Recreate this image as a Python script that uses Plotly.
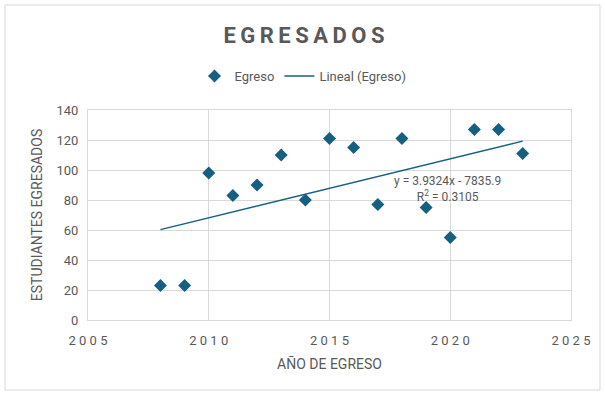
import numpy as np
import plotly.graph_objects as go

years = [2008, 2009, 2010, 2011, 2012, 2013, 2014, 2015, 2016, 2017, 2018, 2019, 2020, 2021, 2022, 2023]
egreso = [23, 23, 98, 83, 90, 110, 80, 121, 115, 77, 121, 75, 55, 127, 127, 111]
x_ticks = [2005, 2010, 2015, 2020, 2025]
y_ticks = [0, 20, 40, 60, 80, 100, 120, 140]

COLOR = "#156082"
GRID = "#d9d9d9"
TXT = "#595959"
FONT = "Roboto"

slope, intercept = np.polyfit(years, egreso, 1)
pred = np.polyval([slope, intercept], years)
r2 = 1 - np.sum((np.array(egreso) - pred) ** 2) / np.sum((np.array(egreso) - np.mean(egreso)) ** 2)
trend_x = [years[0], years[-1]]
trend_y = list(np.polyval([slope, intercept], trend_x))

fig = go.Figure()
fig.add_trace(go.Scatter(x=years, y=egreso, mode="markers", name="Egreso",
                         marker=dict(symbol="diamond", size=10, color=COLOR)))
fig.add_trace(go.Scatter(x=trend_x, y=trend_y, mode="lines", name="Lineal (Egreso)",
                         line=dict(color=COLOR, width=1.5)))

def spaced(s):
    return " ".join(str(s))

W, H = 605, 394
L, T = 88, 110
R = 605 - 571
B = 394 - 320
pw, ph = W - L - R, H - T - B

def px(xp):
    return (xp - L) / pw

def py(yp):
    return (H - B - yp) / ph

fig.update_layout(
    width=W, height=H,
    margin=dict(l=L, r=R, t=T, b=B),
    paper_bgcolor="white", plot_bgcolor="white",
    font=dict(family=FONT, color=TXT, size=12),
    title=dict(text="<b>" + "\u2009".join("EGRESADOS") + "</b>", x=px(304), xanchor="center", xref="paper",
               y=1 - 35 / H, yanchor="middle", font=dict(size=22, color=TXT, family=FONT)),
    showlegend=True,
    legend=dict(orientation="h", x=px(303), xanchor="center", y=py(76), yanchor="middle",
                font=dict(size=13, color=TXT), bgcolor="rgba(0,0,0,0)"),
    xaxis=dict(range=[2005, 2025], tickvals=x_ticks, ticktext=[spaced(t) for t in x_ticks],
               showgrid=True, gridcolor=GRID, gridwidth=1, zeroline=False,
               showline=True, linecolor=GRID, mirror=True, ticks="",
               tickfont=dict(size=13, color=TXT), ticklabelstandoff=8,
               title=dict(text="AÑO DE EGRESO", font=dict(size=14, color=TXT), standoff=12)),
    yaxis=dict(range=[0, 140], tickvals=y_ticks, showgrid=True, gridcolor=GRID, gridwidth=1,
               zeroline=False, showline=True, linecolor=GRID, mirror=True, ticks="",
               tickfont=dict(size=13, color=TXT), ticklabelstandoff=6,
               title=dict(text="ESTUDIANTES EGRESADOS", font=dict(size=14, color=TXT), standoff=10)),
)

fig.add_annotation(xref="paper", yref="paper", x=px(503), y=py(189), showarrow=False,
                   align="center", font=dict(size=12, color=TXT),
                   text=f"y = {slope:.4f}x - {abs(intercept):.1f}<br>R<sup>2</sup> = {r2:.4f}")

fig.add_shape(type="rect", xref="paper", yref="paper", x0=px(5), x1=px(600), y0=py(390), y1=py(5),
              line=dict(color=GRID, width=1), layer="below")

fig.write_html("out.html", config={"displayModeBar": False},
               post_script="document.body.style.margin='0';")
